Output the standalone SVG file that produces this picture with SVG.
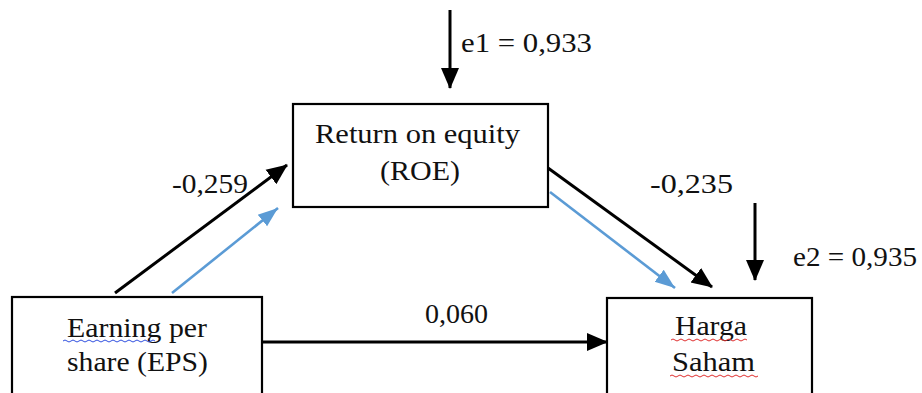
<svg xmlns="http://www.w3.org/2000/svg" width="922" height="393" viewBox="0 0 922 393">
<style>
  text { font-family: "Liberation Serif", "Times New Roman", serif; font-size: 28px; fill: #111; }
  .box { fill: #fff; stroke: #000; stroke-width: 2.2; }
  .blk { stroke: #000; stroke-width: 3; fill: none; }
  .blu { stroke: #5b9bd5; stroke-width: 2.6; fill: none; }
  .wr { stroke: #e03030; stroke-width: 1; fill: none; }
  .wb { stroke: #3050e0; stroke-width: 1; fill: none; }
</style>
<defs>
  <marker id="ab" markerUnits="userSpaceOnUse" markerWidth="22" markerHeight="20" refX="20" refY="10" orient="auto">
    <path d="M0,1 L21,10 L0,19 z" fill="#000"/>
  </marker>
  <marker id="au" markerUnits="userSpaceOnUse" markerWidth="22" markerHeight="18" refX="20" refY="9" orient="auto">
    <path d="M0,1.5 L20,9 L0,16.5 z" fill="#5b9bd5"/>
  </marker>
</defs>
<rect width="922" height="393" fill="#fff"/>
<g id="connectors">
  <line class="blk" x1="450" y1="10" x2="450" y2="88" marker-end="url(#ab)"/>
  <line class="blk" x1="755" y1="203" x2="755" y2="280" marker-end="url(#ab)"/>
  <line class="blk" x1="115" y1="293" x2="287" y2="165" marker-end="url(#ab)"/>
  <line class="blu" x1="172" y1="293" x2="278" y2="208" marker-end="url(#au)"/>
  <line class="blk" x1="548" y1="168" x2="712" y2="287" marker-end="url(#ab)"/>
  <line class="blu" x1="550" y1="192" x2="675" y2="288" marker-end="url(#au)"/>
  <line class="blk" x1="262" y1="342" x2="607" y2="342" marker-end="url(#ab)"/>
  <text x="172" y="193" textLength="76" lengthAdjust="spacingAndGlyphs">-0,259</text>
  <text x="650" y="193" textLength="83" lengthAdjust="spacingAndGlyphs">-0,235</text>
  <text x="425" y="323" textLength="63" lengthAdjust="spacingAndGlyphs">0,060</text>
  <text x="461" y="52" textLength="131" lengthAdjust="spacingAndGlyphs">e1 = 0,933</text>
  <text x="793" y="266" textLength="124" lengthAdjust="spacingAndGlyphs">e2 = 0,935</text>
</g>
<g id="node-roe">
  <rect class="box" x="293" y="104" width="255" height="103"/>
  <text x="315" y="143" textLength="205" lengthAdjust="spacingAndGlyphs">Return on equity</text>
  <text x="380" y="180" textLength="80" lengthAdjust="spacingAndGlyphs">(ROE)</text>
</g>
<g id="node-eps">
  <rect class="box" x="12" y="297" width="250" height="110"/>
  <text x="67" y="337" textLength="140" lengthAdjust="spacingAndGlyphs">Earning per</text>
  <text x="67" y="371" textLength="141" lengthAdjust="spacingAndGlyphs">share (EPS)</text>
  <path class="wb" d="M63,341 q2,-2 4,0 t4,0 t4,0 t4,0 t4,0 t4,0 t4,0 t4,0 t4,0 t4,0 t4,0 t4,0 t4,0 t4,0 t4,0 t4,0 t4,0 t4,0 t4,0 t4,0 t4,0 t4,0 t4,0"/>
</g>
<g id="node-harga">
  <rect class="box" x="607" y="298" width="205" height="110"/>
  <text x="675" y="335" textLength="72" lengthAdjust="spacingAndGlyphs">Harga</text>
  <text x="672" y="371" textLength="83" lengthAdjust="spacingAndGlyphs">Saham</text>
  <path class="wr" d="M671,340 q2,-2 4,0 t4,0 t4,0 t4,0 t4,0 t4,0 t4,0 t4,0 t4,0 t4,0 t4,0 t4,0 t4,0 t4,0 t4,0 t4,0 t4,0 t4,0 t4,0"/>
  <path class="wr" d="M670,376 q2,-2 4,0 t4,0 t4,0 t4,0 t4,0 t4,0 t4,0 t4,0 t4,0 t4,0 t4,0 t4,0 t4,0 t4,0 t4,0 t4,0 t4,0 t4,0 t4,0 t4,0 t4,0 t4,0"/>
</g>
</svg>
